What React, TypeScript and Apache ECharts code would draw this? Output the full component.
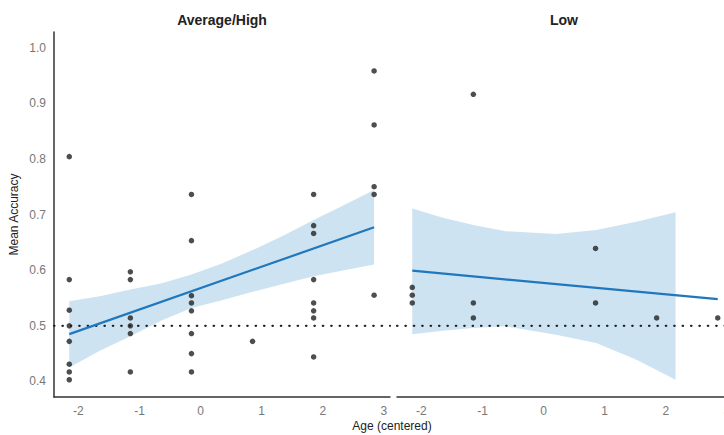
import React, { useEffect, useRef } from "react";
import * as echarts from "echarts";

// ---- Data ----
const panelTitles = ["Average/High", "Low"];
const xTicks = [-2, -1, 0, 1, 2, 3];
const yTicks = [0.4, 0.5, 0.6, 0.7, 0.8, 0.9, 1.0];
const chanceLevel = 0.5;

const highPoints: number[][] = [
  [-2.15, 0.804], [-2.15, 0.583], [-2.15, 0.528], [-2.15, 0.5], [-2.15, 0.472], [-2.15, 0.431], [-2.15, 0.417], [-2.15, 0.403],
  [-1.15, 0.597], [-1.15, 0.583], [-1.15, 0.514], [-1.15, 0.5], [-1.15, 0.486], [-1.15, 0.417],
  [-0.15, 0.736], [-0.15, 0.653], [-0.15, 0.554], [-0.15, 0.541], [-0.15, 0.527], [-0.15, 0.486], [-0.15, 0.45], [-0.15, 0.417],
  [0.85, 0.472],
  [1.85, 0.736], [1.85, 0.68], [1.85, 0.666], [1.85, 0.583], [1.85, 0.541], [1.85, 0.527], [1.85, 0.514], [1.85, 0.444],
  [2.84, 0.958], [2.84, 0.861], [2.84, 0.75], [2.84, 0.736], [2.84, 0.555],
];
const lowPoints: number[][] = [
  [-2.15, 0.569], [-2.15, 0.555], [-2.15, 0.541],
  [-1.15, 0.916], [-1.15, 0.541], [-1.15, 0.514],
  [0.85, 0.639], [0.85, 0.541],
  [1.85, 0.514],
  [2.85, 0.514],
];

const highFit: number[][] = [[-2.15, 0.485], [2.84, 0.677]];
const lowFit: number[][] = [[-2.15, 0.599], [2.85, 0.548]];

const highBandX = [-2.15, -1.65, -1.15, -0.65, -0.15, 0.35, 0.85, 1.35, 1.85, 2.35, 2.84];
const highBandLo = [0.425, 0.455, 0.481, 0.509, 0.532, 0.546, 0.561, 0.575, 0.589, 0.6, 0.61];
const highBandHi = [0.544, 0.553, 0.565, 0.576, 0.592, 0.612, 0.636, 0.662, 0.69, 0.717, 0.744];

const lowBandX = [-2.15, -1.65, -1.15, -0.62, 0.2, 0.86, 1.52, 2.16];
const lowBandLo = [0.485, 0.491, 0.496, 0.499, 0.484, 0.469, 0.439, 0.403];
const lowBandHi = [0.711, 0.694, 0.681, 0.67, 0.665, 0.672, 0.687, 0.704];

const X_MIN = -2.4;
const X_MAX = 3.1;
const Y_MIN = 0.372;
const Y_MAX = 1.028;

const FONT = "Liberation Sans, Arial, Helvetica, sans-serif";
const LINE_BLUE = "#1f77bd";
const BAND_BLUE = "#cde3f1";
const POINT = "#222222";
const TICK_GRAY = "#777777";

function bandSeries(idx: number, xs: number[], lo: number[], hi: number[]) {
  return {
    type: "custom",
    xAxisIndex: idx,
    yAxisIndex: idx,
    data: xs.map((x, i) => [x, lo[i], hi[i]]),
    encode: { x: 0, y: [1, 2] },
    silent: true,
    z: 1,
    renderItem: (params: any, api: any) => {
      if (params.dataIndex !== 0) return { type: "group", children: [] };
      const pts: number[][] = [];
      for (let i = 0; i < xs.length; i++) pts.push(api.coord([xs[i], hi[i]]));
      for (let i = xs.length - 1; i >= 0; i--) pts.push(api.coord([xs[i], lo[i]]));
      return {
        type: "polygon",
        shape: { points: pts },
        style: { fill: BAND_BLUE, stroke: "none" },
      };
    },
  };
}

function panelSeries(idx: number, pts: number[][], fit: number[][]) {
  return [
    {
      type: "line",
      xAxisIndex: idx,
      yAxisIndex: idx,
      data: [[X_MIN, chanceLevel], [X_MAX, chanceLevel]],
      symbol: "none",
      lineStyle: { color: "#222", width: 2.2, type: [0.5, 7.9], cap: "round" },
      silent: true,
      z: 2,
    },
    {
      type: "line",
      xAxisIndex: idx,
      yAxisIndex: idx,
      data: fit,
      symbol: "none",
      lineStyle: { color: LINE_BLUE, width: 2.2 },
      silent: true,
      z: 3,
    },
    {
      type: "scatter",
      xAxisIndex: idx,
      yAxisIndex: idx,
      data: pts,
      symbolSize: 5.5,
      itemStyle: { color: POINT },
      silent: true,
      z: 4,
    },
  ];
}

export default function App() {
  const ref = useRef<HTMLDivElement>(null);
  useEffect(() => {
    if (!ref.current) return;
    const chart = echarts.init(ref.current, undefined, { renderer: "svg" });
    const xAxisBase = {
      type: "value",
      min: X_MIN,
      max: X_MAX,
      axisLine: { show: true, onZero: false, lineStyle: { color: "#333", width: 1.5 } },
      axisTick: { show: false },
      splitLine: { show: false },
      axisLabel: {
        customValues: xTicks,
        color: TICK_GRAY,
        fontSize: 12,
        fontFamily: FONT,
        margin: 8,
        formatter: (v: number) => String(v),
      },
    };
    const option = {
      animation: false,
      backgroundColor: "#ffffff",
      grid: [
        { left: 54, top: 32, width: 336, height: 365, outerBoundsMode: "none", containLabel: false },
        { left: 397, top: 32, width: 336, height: 365, outerBoundsMode: "none", containLabel: false },
      ],
      xAxis: [
        { ...xAxisBase, gridIndex: 0 },
        { ...xAxisBase, gridIndex: 1 },
      ],
      yAxis: [
        {
          type: "value",
          gridIndex: 0,
          min: Y_MIN,
          max: Y_MAX,
          name: "Mean Accuracy",
          nameLocation: "middle",
          nameGap: 34,
          nameRotate: 90,
          nameTextStyle: { color: "#222", fontSize: 12, fontFamily: FONT },
          axisLine: { show: true, onZero: false, lineStyle: { color: "#333", width: 1.5 } },
          axisTick: { show: false },
          splitLine: { show: false },
          axisLabel: {
            customValues: yTicks,
            color: TICK_GRAY,
            fontSize: 12,
            fontFamily: FONT,
            margin: 8,
            formatter: (v: number) => v.toFixed(1),
          },
        },
        {
          type: "value",
          gridIndex: 1,
          min: Y_MIN,
          max: Y_MAX,
          axisLine: { show: false, onZero: false },
          axisTick: { show: false },
          splitLine: { show: false },
          axisLabel: { show: false },
        },
      ],
      graphic: [
        {
          type: "text",
          x: 222,
          y: 20,
          style: {
            text: panelTitles[0],
            fill: "#222",
            fontSize: 14,
            fontWeight: "bold",
            fontFamily: FONT,
            align: "center",
            verticalAlign: "middle",
          },
        },
        {
          type: "text",
          x: 564,
          y: 20,
          style: {
            text: panelTitles[1],
            fill: "#222",
            fontSize: 14,
            fontWeight: "bold",
            fontFamily: FONT,
            align: "center",
            verticalAlign: "middle",
          },
        },
        {
          type: "text",
          x: 392,
          y: 426,
          style: {
            text: "Age (centered)",
            fill: "#222",
            fontSize: 12,
            fontFamily: FONT,
            align: "center",
            verticalAlign: "middle",
          },
        },
      ],
      series: [
        bandSeries(0, highBandX, highBandLo, highBandHi),
        bandSeries(1, lowBandX, lowBandLo, lowBandHi),
        ...panelSeries(0, highPoints, highFit),
        ...panelSeries(1, lowPoints, lowFit),
      ],
    };
    chart.setOption(option as any);
    return () => chart.dispose();
  }, []);
  return <div ref={ref} style={{ width: 724, height: 435, position: "absolute", left: 0, top: 0 }} />;
}
